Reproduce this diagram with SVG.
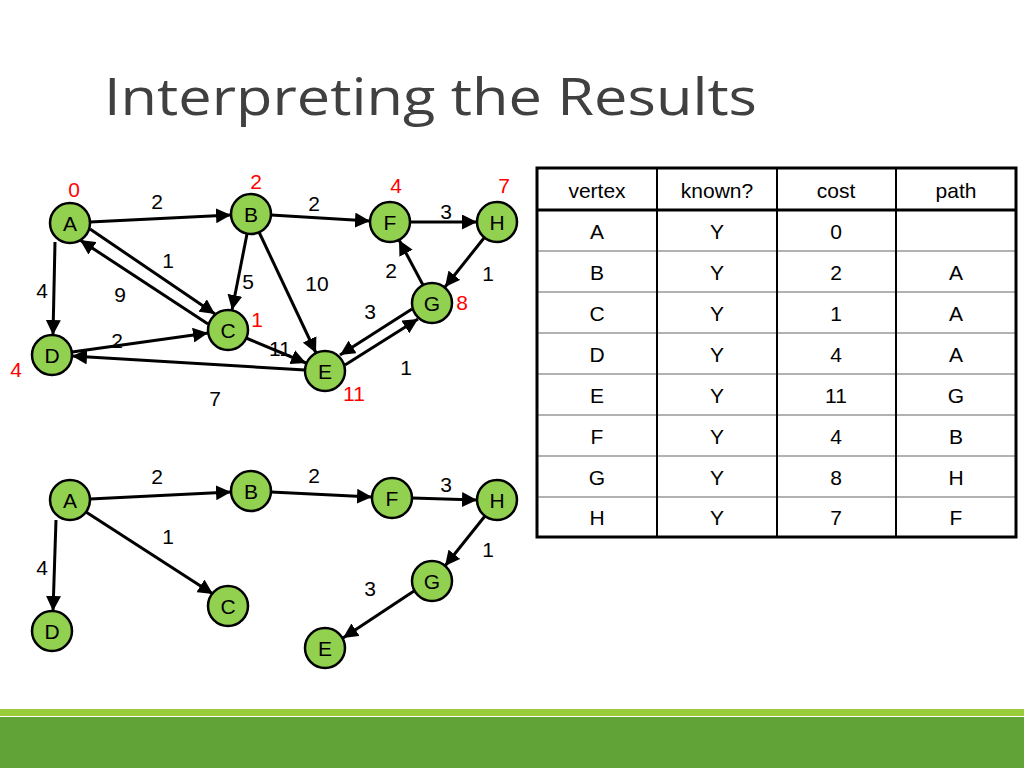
<svg xmlns="http://www.w3.org/2000/svg" width="1024" height="768" viewBox="0 0 1024 768">
<defs>
<marker id="ah" viewBox="0 0 10 10" refX="10" refY="5" markerWidth="5" markerHeight="5" orient="auto" markerUnits="strokeWidth"><path d="M0,0L10,5L0,10z" fill="#000"/></marker>
<style>
.n circle{fill:#92d050;stroke:#000;stroke-width:2.5}
.n text,.l{font-family:"Liberation Sans",Arial,sans-serif;font-size:21px;text-anchor:middle;dominant-baseline:central;fill:#000}
.r{fill:#ff0000 !important}
#edges line{stroke:#000;stroke-width:3;marker-end:url(#ah)}
.t{font-family:"Liberation Sans",Arial,sans-serif;font-size:21px;text-anchor:middle;dominant-baseline:central;fill:#000}
</style>
</defs>
<rect width="1024" height="768" fill="#fff"/>
<text x="104" y="115" font-family="'Open Sans',sans-serif" font-size="52" fill="#404040" textLength="653" lengthAdjust="spacingAndGlyphs">Interpreting the Results</text>
<g id="edges">
<line x1="90" y1="222" x2="231" y2="215"/>
<line x1="271" y1="215" x2="370" y2="221"/>
<line x1="410" y1="222" x2="477" y2="222"/>
<line x1="484" y1="238" x2="445" y2="287"/>
<line x1="423" y1="285" x2="399" y2="240"/>
<line x1="412" y1="309" x2="340" y2="355"/>
<line x1="345" y1="365" x2="418" y2="319"/>
<line x1="90" y1="229" x2="215" y2="314"/>
<line x1="208" y1="324" x2="80" y2="240"/>
<line x1="247" y1="234" x2="232" y2="310"/>
<line x1="259" y1="232" x2="316" y2="353"/>
<line x1="55" y1="242" x2="53" y2="335"/>
<line x1="72" y1="352" x2="208" y2="333"/>
<line x1="246" y1="338" x2="306" y2="363"/>
<line x1="305" y1="370" x2="72" y2="356"/>
<line x1="90" y1="499" x2="231" y2="492"/>
<line x1="271" y1="492" x2="372" y2="497"/>
<line x1="412" y1="498" x2="477" y2="500"/>
<line x1="485" y1="516" x2="445" y2="566"/>
<line x1="86" y1="512" x2="213" y2="594"/>
<line x1="56" y1="520" x2="53" y2="611"/>
<line x1="414" y1="591" x2="343" y2="638"/>
</g>
<g class="l">
<text class="l" x="157" y="201">2</text><text class="l" x="314" y="203">2</text><text class="l" x="446" y="211">3</text>
<text class="l" x="168" y="260">1</text><text class="l" x="120" y="294">9</text><text class="l" x="42" y="290">4</text>
<text class="l" x="248" y="281">5</text><text class="l" x="317" y="283">10</text><text class="l" x="391" y="270">2</text>
<text class="l" x="488" y="273">1</text><text class="l" x="370" y="311">3</text><text class="l" x="117" y="340">2</text>
<text class="l" x="280" y="348">11</text><text class="l" x="406" y="367">1</text><text class="l" x="215" y="398">7</text>
<text class="l r" x="74" y="189">0</text><text class="l r" x="256" y="181">2</text><text class="l r" x="396" y="185">4</text>
<text class="l r" x="504" y="185">7</text><text class="l r" x="462" y="302">8</text><text class="l r" x="257" y="319">1</text>
<text class="l r" x="16" y="369">4</text><text class="l r" x="354" y="393">11</text>
<text class="l" x="157" y="476">2</text><text class="l" x="314" y="475">2</text><text class="l" x="446" y="484">3</text>
<text class="l" x="168" y="536">1</text><text class="l" x="42" y="567">4</text><text class="l" x="488" y="549">1</text>
<text class="l" x="370" y="588">3</text>
</g>
<g id="nA" class="n"><circle cx="70" cy="223" r="20"/><text x="70" y="223">A</text></g>
<g id="nB" class="n"><circle cx="251" cy="214" r="20"/><text x="251" y="214">B</text></g>
<g id="nF" class="n"><circle cx="390" cy="222" r="20"/><text x="390" y="222">F</text></g>
<g id="nH" class="n"><circle cx="497" cy="222" r="20"/><text x="497" y="222">H</text></g>
<g id="nC" class="n"><circle cx="228" cy="330" r="20"/><text x="228" y="330">C</text></g>
<g id="nD" class="n"><circle cx="52" cy="355" r="20"/><text x="52" y="355">D</text></g>
<g id="nE" class="n"><circle cx="325" cy="371" r="20"/><text x="325" y="371">E</text></g>
<g id="nG" class="n"><circle cx="432" cy="303" r="20"/><text x="432" y="303">G</text></g>
<g id="nA2" class="n"><circle cx="70" cy="500" r="20"/><text x="70" y="500">A</text></g>
<g id="nB2" class="n"><circle cx="251" cy="491" r="20"/><text x="251" y="491">B</text></g>
<g id="nF2" class="n"><circle cx="392" cy="498" r="20"/><text x="392" y="498">F</text></g>
<g id="nH2" class="n"><circle cx="497" cy="500" r="20"/><text x="497" y="500">H</text></g>
<g id="nC2" class="n"><circle cx="228" cy="606" r="20"/><text x="228" y="606">C</text></g>
<g id="nD2" class="n"><circle cx="52" cy="631" r="20"/><text x="52" y="631">D</text></g>
<g id="nE2" class="n"><circle cx="325" cy="648" r="20"/><text x="325" y="648">E</text></g>
<g id="nG2" class="n"><circle cx="432" cy="581" r="20"/><text x="432" y="581">G</text></g>
<g id="table">
<g stroke="#999" stroke-width="1.5">
<line x1="537" y1="251" x2="1016" y2="251"/><line x1="537" y1="292" x2="1016" y2="292"/>
<line x1="537" y1="333" x2="1016" y2="333"/><line x1="537" y1="374" x2="1016" y2="374"/>
<line x1="537" y1="415" x2="1016" y2="415"/><line x1="537" y1="456" x2="1016" y2="456"/>
<line x1="537" y1="497" x2="1016" y2="497"/>
</g>
<g stroke="#000" stroke-width="2">
<line x1="657" y1="168" x2="657" y2="537"/><line x1="777" y1="168" x2="777" y2="537"/><line x1="896" y1="168" x2="896" y2="537"/>
<line x1="537" y1="210" x2="1016" y2="210" stroke-width="3"/>
</g>
<rect x="537" y="168" width="479" height="369" fill="none" stroke="#000" stroke-width="3"/>
<text class="t" x="597" y="190">vertex</text><text class="t" x="717" y="190">known?</text><text class="t" x="836" y="190">cost</text><text class="t" x="956" y="190">path</text>
<text class="t" x="597" y="231">A</text><text class="t" x="717" y="231">Y</text><text class="t" x="836" y="231">0</text>
<text class="t" x="597" y="272">B</text><text class="t" x="717" y="272">Y</text><text class="t" x="836" y="272">2</text><text class="t" x="956" y="272">A</text>
<text class="t" x="597" y="313">C</text><text class="t" x="717" y="313">Y</text><text class="t" x="836" y="313">1</text><text class="t" x="956" y="313">A</text>
<text class="t" x="597" y="354">D</text><text class="t" x="717" y="354">Y</text><text class="t" x="836" y="354">4</text><text class="t" x="956" y="354">A</text>
<text class="t" x="597" y="395">E</text><text class="t" x="717" y="395">Y</text><text class="t" x="836" y="395">11</text><text class="t" x="956" y="395">G</text>
<text class="t" x="597" y="436">F</text><text class="t" x="717" y="436">Y</text><text class="t" x="836" y="436">4</text><text class="t" x="956" y="436">B</text>
<text class="t" x="597" y="477">G</text><text class="t" x="717" y="477">Y</text><text class="t" x="836" y="477">8</text><text class="t" x="956" y="477">H</text>
<text class="t" x="597" y="517">H</text><text class="t" x="717" y="517">Y</text><text class="t" x="836" y="517">7</text><text class="t" x="956" y="517">F</text>
</g>
<rect x="0" y="709" width="1024" height="7" fill="#99cc3b"/>
<rect x="0" y="717" width="1024" height="51" fill="#62a337"/>
</svg>
